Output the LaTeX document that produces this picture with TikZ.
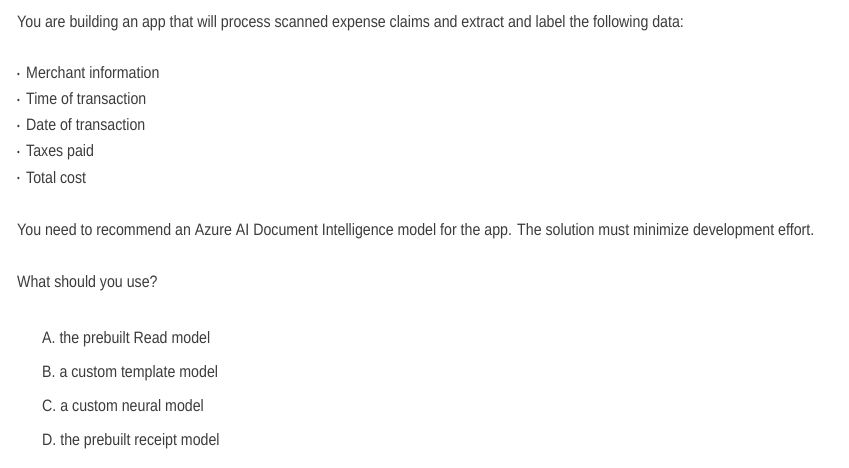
\documentclass[tikz,border=0pt]{standalone}
\usepackage{fontspec}
\setmainfont[FakeStretch=0.86]{Liberation Sans}
\usepackage{xcolor}
\definecolor{quiztext}{RGB}{60,60,60}
\tikzset{
  quizline/.style={anchor=base west, inner sep=0pt, text=quiztext, font=\fontsize{16.5}{19}\selectfont},
}
\newcommand\quizbullet[3]{
  \node[quizline] (#1dot) at (17,#2) {\raisebox{1.5pt}{\small•}};
  \node[quizline] (#1) at (26,#2) {#3};
}
\newcommand\quizoption[3]{
  \node[quizline] (#1) at (42,#2) {#3};
}

\begin{document}
\begin{tikzpicture}[x=1pt,y=-1pt]
  \useasboundingbox[fill=white] (0,0) rectangle (849,468);

  \node[quizline] (intro) at (17,28) {You are building an app that will process scanned expense claims and extract and label the following data:};

  \quizbullet{merchant}{79}{Merchant information}
  \quizbullet{time}{105}{Time of transaction}
  \quizbullet{date}{131}{Date of transaction}
  \quizbullet{taxes}{157}{Taxes paid}
  \quizbullet{total}{183}{Total cost}

  \node[quizline] (need) at (17,235) {You need to recommend an Azure AI Document Intelligence model for the app. The solution must minimize development effort.};
  \node[quizline] (ask) at (17,287) {What should you use?};

  \quizoption{optA}{343}{A. the prebuilt Read model}
  \quizoption{optB}{377}{B. a custom template model}
  \quizoption{optC}{411}{C. a custom neural model}
  \quizoption{optD}{445}{D. the prebuilt receipt model}
\end{tikzpicture}
\end{document}
